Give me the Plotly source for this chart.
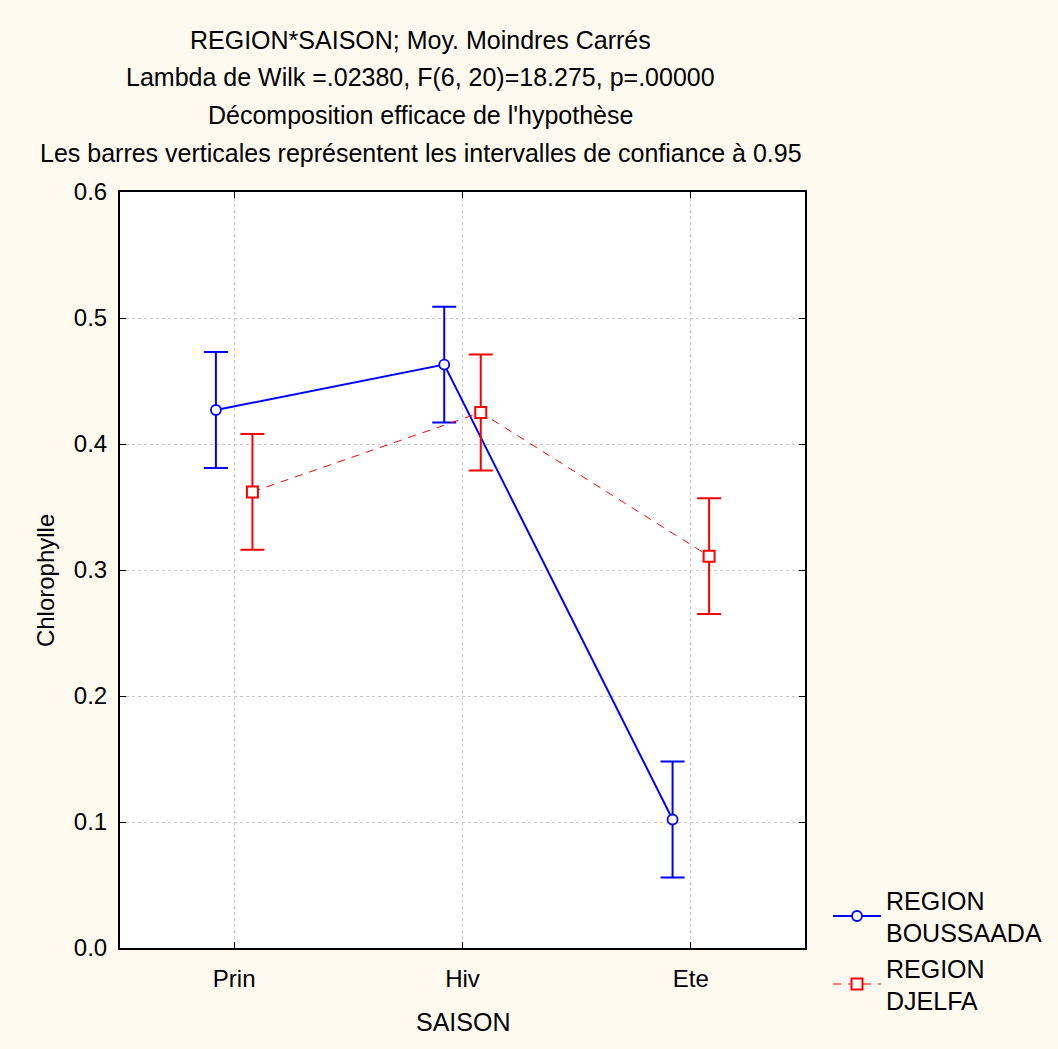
import plotly.graph_objects as go

# Saisons (facteur en abscisse)
saisons = ["Prin", "Hiv", "Ete"]

# Moyennes des moindres carrés de la chlorophylle et demi-largeurs des IC à 95 %
boussaada_moy = [0.427, 0.463, 0.102]
boussaada_ic = [0.046, 0.046, 0.046]
djelfa_moy = [0.362, 0.425, 0.311]
djelfa_ic = [0.046, 0.046, 0.046]

y_ticks = [0.0, 0.1, 0.2, 0.3, 0.4, 0.5, 0.6]

titre_lignes = [
    "REGION*SAISON; Moy. Moindres Carrés",
    "Lambda de Wilk =.02380, F(6, 20)=18.275, p=.00000",
    "Décomposition efficace de l'hypothèse",
    "Les barres verticales représentent les intervalles de confiance à 0.95",
]

FONT = "Liberation Sans, Arial, sans-serif"
BLEU = "#0000FF"
ROUGE = "#FF0000"
DECALAGE = 0.08  # décalage horizontal des deux régions autour de chaque saison

idx = list(range(len(saisons)))

fig = go.Figure()

fig.add_trace(go.Scatter(
    x=[i - DECALAGE for i in idx],
    y=boussaada_moy,
    mode="lines+markers",
    name="REGION<br>BOUSSAADA",
    line=dict(color=BLEU, width=2),
    marker=dict(symbol="circle", size=10, color="white",
                line=dict(color=BLEU, width=1.8)),
    error_y=dict(type="data", array=boussaada_ic, visible=True,
                 color=BLEU, thickness=2, width=12),
))

fig.add_trace(go.Scatter(
    x=[i + DECALAGE for i in idx],
    y=djelfa_moy,
    mode="lines+markers",
    name="REGION<br>DJELFA",
    line=dict(color=ROUGE, width=1, dash="8px,7px"),
    marker=dict(symbol="square", size=11, color="white",
                line=dict(color=ROUGE, width=2)),
    error_y=dict(type="data", array=djelfa_ic, visible=True,
                 color=ROUGE, thickness=2, width=12),
))

# Titre sur quatre lignes
ann = []
for txt, ypx in zip(titre_lignes, [40, 77, 115, 153]):
    ann.append(dict(
        text=txt, xref="paper", yref="paper",
        x=(421 - 120) / 686, y=(948 - ypx) / 756,
        xanchor="center", yanchor="middle", showarrow=False,
        font=dict(family=FONT, size=25, color="black"),
    ))

# Titres des axes
ann.append(dict(text="Chlorophylle", xref="paper", yref="paper",
                x=(45 - 120) / 686, y=(948 - 581) / 756, textangle=-90,
                xanchor="center", yanchor="middle", showarrow=False,
                font=dict(family=FONT, size=24, color="black")))
ann.append(dict(text="SAISON", xref="paper", yref="paper",
                x=(463 - 120) / 686, y=(948 - 1022) / 756,
                xanchor="center", yanchor="middle", showarrow=False,
                font=dict(family=FONT, size=25, color="black")))

fig.update_layout(
    width=1058, height=1049,
    margin=dict(l=120, r=252, t=192, b=101),
    paper_bgcolor="#FFFAF0",
    plot_bgcolor="white",
    font=dict(family=FONT, size=24, color="black"),
    annotations=ann,
    showlegend=True,
    legend=dict(
        x=(828 - 120) / 686, y=(948 - 877) / 756,
        xanchor="left", yanchor="top",
        bgcolor="rgba(0,0,0,0)",
        font=dict(family=FONT, size=25, color="black"),
        itemwidth=48,
        tracegroupgap=0,
    ),
)

fig.update_xaxes(
    range=[-0.5, 2.5],
    tickmode="array", tickvals=idx, ticktext=saisons,
    showline=True, linecolor="black", linewidth=2, mirror="ticks",
    ticks="inside", ticklen=6, tickwidth=1, tickcolor="black",
    showgrid=True, gridcolor="#C8C8C8", gridwidth=1, griddash="dot",
    zeroline=False,
    tickfont=dict(family=FONT, size=24),
    ticklabelstandoff=8,
)

fig.update_yaxes(
    range=[0, 0.6],
    tickmode="array", tickvals=y_ticks,
    ticktext=[f"{v:.1f}" for v in y_ticks],
    showline=True, linecolor="black", linewidth=2, mirror="ticks",
    ticks="inside", ticklen=6, tickwidth=1, tickcolor="black",
    showgrid=True, gridcolor="#C8C8C8", gridwidth=1, griddash="dot",
    zeroline=False,
    tickfont=dict(family=FONT, size=24),
    ticklabelstandoff=6,
)

fig.write_html("out.html")
